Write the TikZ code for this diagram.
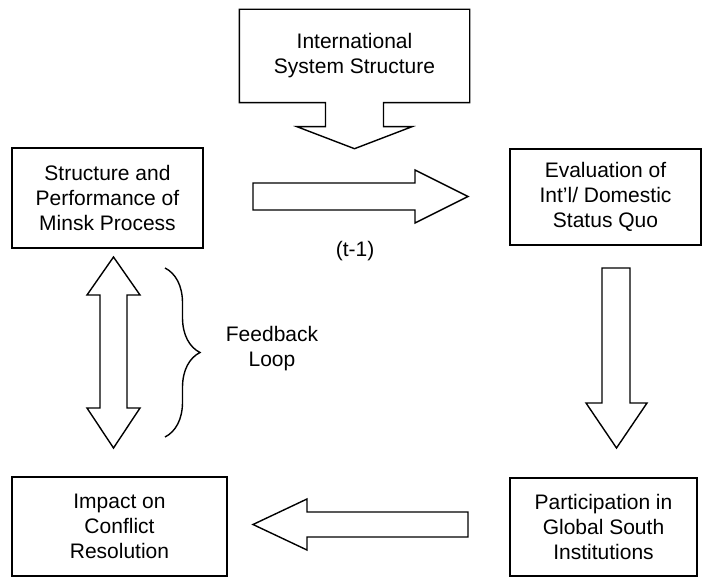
\documentclass[tikz,border=0pt]{standalone}
\usepackage{fontspec}
\setmainfont{Liberation Sans}
\usetikzlibrary{positioning,calc,decorations.pathreplacing}

\begin{document}
\begin{tikzpicture}[x=1pt,y=-1pt,
    box/.style={rectangle,draw=black,line width=1.4pt,align=center,font=\fontsize{21}{25}\selectfont},
    blockarrow/.style={draw=black,fill=white,line width=1.4pt}]
        \useasboundingbox (0,0) rectangle (703,577);

        \node[box,draw=none,minimum width=229pt,minimum height=92pt] (intl) at (354.5,56) {International\\System Structure};
        \node[box,minimum width=191pt,minimum height=100pt] (minsk) at (107.5,198) {Structure and\\Performance of\\Minsk Process};
        \node[box,minimum width=191pt,minimum height=96pt] (eval) at (605.5,197) {Evaluation of\\Int'l/ Domestic\\Status Quo};
        \node[box,minimum width=215pt,minimum height=99pt] (impact) at (119.5,526.5) {Impact on\\Conflict\\Resolution};
        \node[box,minimum width=187pt,minimum height=98pt] (partic) at (603.5,527) {Participation in\\Global South\\Institutions};

        % callout under the top box
        \draw[blockarrow,fill=none] (intl.south west) -- (intl.north west) -- (intl.north east) -- (intl.south east)
            -- ($(intl.south)+(29,0)$) -- ++(0,24) -- ++(28.5,0) -- ($(intl.south)+(0,46)$)
            -- ($(intl.south)+(-57.5,24)$) -- ++(28.5,0) -- ($(intl.south)+(-29,0)$) -- cycle;

        \draw[blockarrow] (253,183) -- (415,183) -- (415,170) -- (468,196.5) -- (415,223) -- (415,210) -- (253,210) -- cycle;
        \draw[blockarrow] (602,268) -- (630,268) -- (630,403) -- (647,403) -- (616.5,448) -- (586,403) -- (602,403) -- cycle;
        \draw[blockarrow] (468,512) -- (468,537) -- (307,537) -- (307,550) -- (253,524.5) -- (307,499) -- (307,512) -- cycle;
        \draw[blockarrow] (113.5,257) -- (140,295) -- (127,295) -- (127,408) -- (140,408) -- (113.5,448)
            -- (87,408) -- (100,408) -- (100,295) -- (87,295) -- cycle;

        \draw[line width=1.4pt,decorate,decoration={brace,amplitude=35pt}] (165,268) -- (165,437);

        \node[font=\fontsize{21}{25}\selectfont,align=center] (feedback) at (272,349) {Feedback\\Loop};
        \node[font=\fontsize{21}{25}\selectfont] (lag) at (355,251) {(t-1)};
    \end{tikzpicture}
\end{document}
